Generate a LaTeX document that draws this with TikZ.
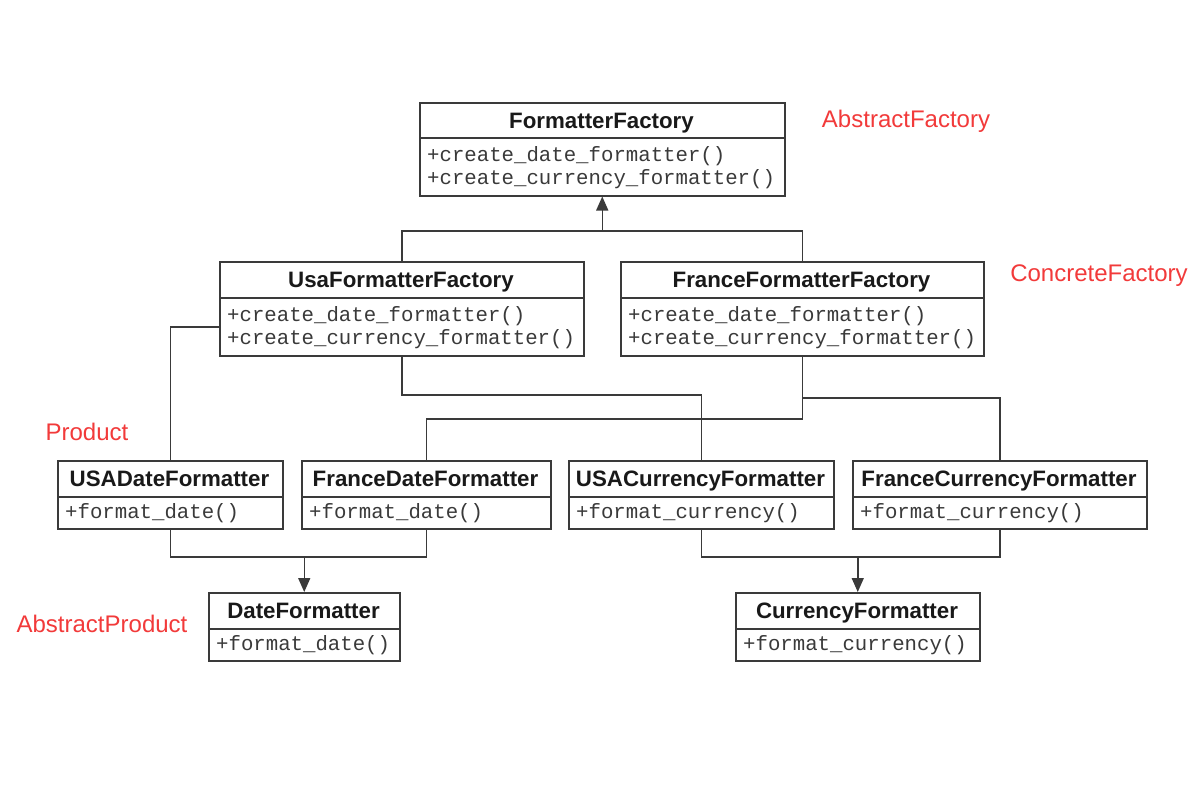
\documentclass[tikz,border=0pt]{standalone}
\usepackage{fontspec}
\setmainfont{Liberation Sans}
\setmonofont{Liberation Mono}
\usetikzlibrary{arrows.meta,calc}
\definecolor{ln}{HTML}{3A3A3A}
\definecolor{lblred}{HTML}{F23A3A}
\tikzset{
 cls/.style={draw=ln, line width=1.5pt, anchor=north west, inner sep=0pt},
 ttl/.style={font=\fontsize{22.3}{24}\selectfont\bfseries, text=black!90, inner sep=0pt, anchor=base},
 mth/.style={font=\fontsize{20.7}{23}\selectfont\ttfamily, anchor=west, align=left, inner sep=0pt, text=ln},
 lbl/.style={font=\fontsize{24}{26}\selectfont, text=lblred, inner sep=0pt},
 con/.style={draw=ln, line width=1.5pt},
 inh/.style={con, -{Triangle[width=12pt,length=14pt]}},
}
\newcommand\umlbox[8]{%
 \node[cls, minimum width={(#4-#2)*1pt}, minimum height={(#5-#3)*1pt}] (#1) at (#2,#3) {};
 \draw[con] (#2,#6) -- (#4,#6);
 \node[ttl] (#1-t) at ({(#2+#4)/2},{(#3+#6)/2+8}) {#7};
 \node[mth] (#1-m) at ({#2+8},{(#6+#5)/2+1}) {#8};
}
\begin{document}
\begin{tikzpicture}[x=1pt,y=-1pt]
\useasboundingbox[fill=white] (0,0) rectangle (1204,784);
\umlbox{ff}{419}{102}{784}{195}{138}{FormatterFactory}{+create\_date\_formatter()\\+create\_currency\_formatter()}
\umlbox{usaf}{219}{261}{583}{355}{298}{UsaFormatterFactory}{+create\_date\_formatter()\\+create\_currency\_formatter()}
\umlbox{frf}{620}{261}{983}{355}{298}{FranceFormatterFactory}{+create\_date\_formatter()\\+create\_currency\_formatter()}
\umlbox{usad}{57}{460}{282}{528}{497}{USADateFormatter}{+format\_date()}
\umlbox{frd}{301}{460}{550}{528}{497}{FranceDateFormatter}{+format\_date()}
\umlbox{usac}{568}{460}{833}{528}{497}{USACurrencyFormatter}{+format\_currency()}
\umlbox{frc}{852}{460}{1146}{528}{497}{FranceCurrencyFormatter}{+format\_currency()}
\umlbox{df}{208}{592}{399}{660}{629}{DateFormatter}{+format\_date()}
\umlbox{cf}{735}{592}{979}{660}{629}{CurrencyFormatter}{+format\_currency()}
% labels
\node[lbl] (l1) at (906,121) {AbstractFactory};
\node[lbl] (l2) at (1099,276) {ConcreteFactory};
\node[lbl] (l3) at (87,432) {Product};
\node[lbl] (l4) at (102,624) {AbstractProduct};
% inheritance factories
\coordinate (j1) at (ff.south |- 0,231);
\draw[con] (usaf.north) |- (j1) -| (frf.north);
\draw[inh] (j1) -- (ff.south);
% creation links
\draw[con] ([yshift=-18pt]usaf.west) -| (usad.north);
\coordinate (k1) at (usaf.south |- 0,395);
\draw[con] (usaf.south) -- (k1) -| (usac.north);
\coordinate (j3) at (frf.south |- 0,398);
\coordinate (k2) at (frf.south |- 0,419);
\draw[con] (frf.south) -- (k2) -| (frd.north);
\draw[con] (j3) -| (frc.north);
% product inheritance
\coordinate (j2) at (df.north |- 0,557);
\draw[con] (usad.south) |- (j2) -| (frd.south);
\draw[inh] (j2) -- (df.north);
\coordinate (j4) at (cf.north |- 0,557);
\draw[con] (usac.south) |- (j4) -| (frc.south);
\draw[inh] (j4) -- (cf.north);
\end{tikzpicture}
\end{document}
